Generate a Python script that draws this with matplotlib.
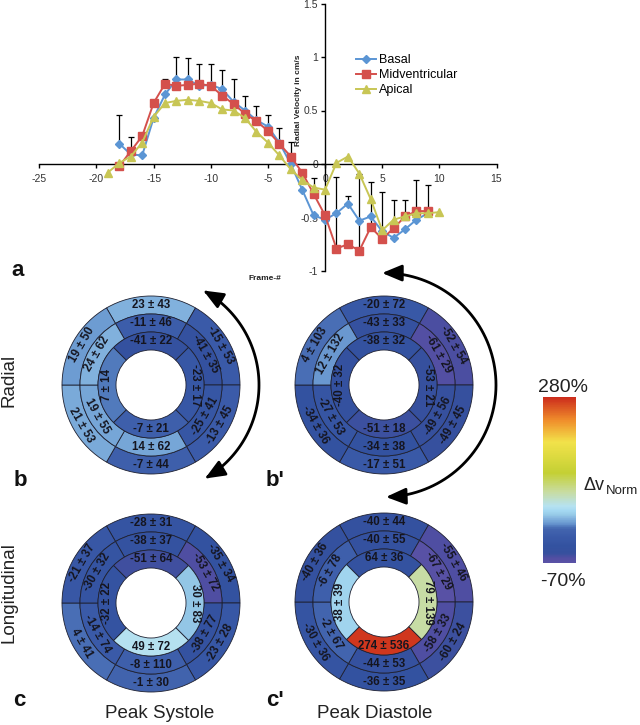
import numpy as np
import matplotlib
matplotlib.use('Agg')
import matplotlib.pyplot as plt
from matplotlib.patches import Wedge, FancyArrowPatch
from matplotlib.path import Path
from matplotlib.colors import LinearSegmentedColormap, Normalize
import matplotlib.colorbar as mcolorbar

plt.rcParams['font.family'] = ['Liberation Sans', 'DejaVu Sans']

# ---------------- line chart data ----------------
frames_basal = list(range(-18, 10))
basal = [0.19, 0.09, 0.08, 0.43, 0.65, 0.79, 0.79, 0.73, 0.74, 0.70, 0.58, 0.50,
         0.41, 0.35, 0.20, 0.00, -0.24, -0.48, -0.52, -0.46, -0.37, -0.53, -0.49,
         -0.63, -0.69, -0.61, -0.52, -0.46]
frames_mid = list(range(-18, 10))
mid = [-0.02, 0.12, 0.26, 0.57, 0.75, 0.73, 0.74, 0.75, 0.73, 0.64, 0.56, 0.47,
       0.40, 0.31, 0.19, 0.07, -0.08, -0.28, -0.48, -0.79, -0.75, -0.81, -0.59,
       -0.70, -0.60, -0.49, -0.44, -0.44]
frames_apical = list(range(-19, 11))
apical = [-0.08, 0.01, 0.07, 0.20, 0.44, 0.57, 0.59, 0.60, 0.59, 0.57, 0.51, 0.50,
          0.43, 0.30, 0.20, 0.08, -0.05, -0.15, -0.22, -0.24, 0.01, 0.07, -0.09,
          -0.33, -0.62, -0.52, -0.49, -0.46, -0.46, -0.45]

# upper error-bar caps
err_frames_mid = [-17, -14, -13, -12, -11, -10, -9, -8, -7, -6, -5, -4, -3,
                  -1, 1, 3, 4, 5, 6, 7, 8, 9]
err_caps_mid = [0.25, 0.79, 1.00, 0.99, 0.93, 0.93, 0.88, 0.79, 0.64, 0.54, 0.46,
                0.34, 0.21, -0.13, -0.12, -0.09, -0.17, -0.26, -0.34, -0.34,
                -0.15, -0.20]
err_frames_basal = [-18, 2]
err_caps_basal = [0.46, -0.30]

x_ticks = [-25, -20, -15, -10, -5, 0, 5, 10, 15]
y_ticks = [-1, -0.5, 0, 0.5, 1, 1.5]
y_ticklabels = ['-1', '-0.5', '0', '0.5', '1', '1.5']

# ---------------- bullseye data ----------------
# order outer/middle: top, upper-right, lower-right, bottom, lower-left, upper-left
# order inner: top, right, bottom, left
b_outer_mean = [23, -15, -13, -7, 21, 19]
b_outer_sd = [43, 53, 45, 44, 53, 50]
b_outer_shade = [23, -15, -13, -7, 21, 15]
b_mid_mean = [-11, -41, -25, 14, 19, 24]
b_mid_sd = [46, 35, 41, 62, 55, 62]
b_mid_shade = [-11, -41, -25, 20, 20, 24]
b_in_mean = [-41, -23, -7, 7]
b_in_sd = [22, 17, 21, 14]
b_in_shade = [-41, -23, -7, 7]

bp_outer_mean = [-20, -52, -49, -17, -34, 4]
bp_outer_sd = [72, 54, 45, 51, 36, 103]
bp_outer_shade = [-20, -57, -49, -17, -34, 4]
bp_mid_mean = [-43, -61, -49, -34, -27, 12]
bp_mid_sd = [33, 29, 56, 38, 53, 132]
bp_mid_shade = [-43, -61, -49, -34, -27, 14]
bp_in_mean = [-38, -53, -51, -40]
bp_in_sd = [32, 21, 18, 32]
bp_in_shade = [-38, -48, -51, -40]

c_outer_mean = [-28, -35, -23, -1, 4, -21]
c_outer_sd = [31, 34, 28, 30, 41, 37]
c_outer_shade = [-28, -35, -23, -1, 4, -21]
c_mid_mean = [-38, -53, -38, -8, -14, -30]
c_mid_sd = [37, 72, 77, 110, 74, 32]
c_mid_shade = [-38, -58, -38, -8, -14, -30]
c_in_mean = [-51, 30, 49, -32]
c_in_sd = [64, 83, 72, 22]
c_in_shade = [-53, 30, 49, -32]

cp_outer_mean = [-40, -55, -60, -36, -30, -40]
cp_outer_sd = [44, 46, 24, 35, 36, 36]
cp_outer_shade = [-40, -58, -52, -36, -30, -40]
cp_mid_mean = [-40, -67, -58, -44, -2, -6]
cp_mid_sd = [55, 29, 33, 53, 67, 78]
cp_mid_shade = [-40, -67, -58, -44, 0, -8]
cp_in_mean = [64, 79, 274, 38]
cp_in_sd = [36, 139, 536, 39]
cp_in_shade = [-38, 79, 274, 38]

cbar_min, cbar_max = -70, 280

# ---------------- colour map ----------------
stops = [(-70, '#5a52a6'), (-60, '#524ea2'), (-50, '#36509e'), (-35, '#3352a0'),
         (-15, '#3a5aa8'), (0, '#4264ae'), (5, '#4a70b6'), (12, '#6694ce'),
         (20, '#78a8d8'), (25, '#86b6e0'), (32, '#98cce8'), (40, '#a4d8f2'),
         (50, '#b6e2f0'), (80, '#c8dca0'), (120, '#c4d034'), (185, '#f2e24a'),
         (230, '#f0902c'), (280, '#cc2c1c')]
cmap = LinearSegmentedColormap.from_list(
    'dv', [((v - cbar_min) / (cbar_max - cbar_min), c) for v, c in stops])
norm = Normalize(cbar_min, cbar_max)

W, H = 640, 725
fig = plt.figure(figsize=(W / 100, H / 100), dpi=100)

# ---------------- line chart ----------------
ax = fig.add_axes([39.3 / W, 1 - 271 / H, 457.2 / W, 267.5 / H])
ax.set_facecolor('none')
BLUE, RED, YEL = '#5b95d4', '#d4504c', '#c8c655'
ax.plot(frames_basal, basal, color=BLUE, marker='D', ms=4, lw=1.4, label='Basal', zorder=3)
ax.plot(frames_mid, mid, color=RED, marker='s', ms=5.5, lw=1.4, label='Midventricular', zorder=3)
ax.plot(frames_apical, apical, color=YEL, marker='^', ms=5.5, lw=1.4, label='Apical', zorder=3)


def up_errors(frames, series_frames, series, caps):
    vals = [series[series_frames.index(f)] for f in frames]
    up = [c - v for c, v in zip(caps, vals)]
    eb = ax.errorbar(frames, vals, yerr=[np.zeros(len(up)), up], fmt='none',
                     ecolor='black', elinewidth=0.9, capsize=2.5, capthick=0.9, zorder=2)
    eb[1][0].set_visible(False)


up_errors(err_frames_mid, frames_mid, mid, err_caps_mid)
up_errors(err_frames_basal, frames_basal, basal, err_caps_basal)

ax.set_xlim(-25, 15)
ax.set_ylim(-1, 1.5)
ax.spines['left'].set_position(('data', 0))
ax.spines['bottom'].set_position(('data', 0))
ax.spines['top'].set_visible(False)
ax.spines['right'].set_visible(False)
for s in ('left', 'bottom'):
    ax.spines[s].set_linewidth(1.0)
    ax.spines[s].set_color('black')
ax.set_xticks(x_ticks)
ax.set_xticklabels([str(t) for t in x_ticks])
ax.set_yticks(y_ticks)
ax.set_yticklabels(y_ticklabels)
ax.tick_params(axis='both', direction='out', length=3, width=1, pad=2,
               labelsize=7.5, labelcolor='#333333')
ax.tick_params(axis='x', pad=4)
leg = ax.legend(loc='upper left', bbox_to_anchor=(356 / W, 1 - 54 / H),
                bbox_transform=fig.transFigure, frameon=False, fontsize=9,
                handlelength=1.6, handletextpad=0.2, labelspacing=0.25,
                borderpad=0, borderaxespad=0)
fig.text(298 / W, 1 - 100 / H, 'Radial Velocity in cm/s', rotation=90, ha='center',
         va='center', fontsize=6, fontweight='bold', color='#222222')
fig.text(265 / W, 1 - 278 / H, 'Frame-#', ha='center', va='center', fontsize=6,
         fontweight='bold', color='#222222')

# ---------------- overlay for bullseyes ----------------
ov = fig.add_axes([0, 0, 1, 1])
ov.set_xlim(0, W)
ov.set_ylim(0, H)
ov.axis('off')
ov.patch.set_visible(False)

EDGE = '#1e2030'
TXT = '#15151f'
R_HOLE, R1, R2, R3 = 35, 53, 71, 89
ring6 = [90, 30, -30, -90, -150, 150]
ring4 = [90, 0, -90, 180]


def label_rot(theta):
    t = theta % 360
    return t - 90 if t <= 180 else t - 270


def draw_bullseye(cx, cy_img, outer, middle, inner):
    cy = H - cy_img
    rings = [(R2, R3, ring6, 30, outer), (R1, R2, ring6, 30, middle),
             (R_HOLE, R1, ring4, 45, inner)]
    for r_in, r_out, centers, half, (means, sds, shades) in rings:
        for th, m, s, sh in zip(centers, means, sds, shades):
            ov.add_patch(Wedge((cx, cy), r_out, th - half, th + half,
                               width=r_out - r_in, facecolor=cmap(norm(sh)),
                               edgecolor=EDGE, lw=0.6))
            rm = (r_in + r_out) / 2
            tx = cx + rm * np.cos(np.radians(th))
            ty = cy + rm * np.sin(np.radians(th))
            ov.text(tx, ty, f'{m} \u00b1 {s}', rotation=label_rot(th),
                    rotation_mode='anchor', ha='center', va='center',
                    fontsize=8.3, fontweight='bold', color=TXT)


draw_bullseye(151, 385, (b_outer_mean, b_outer_sd, b_outer_shade),
              (b_mid_mean, b_mid_sd, b_mid_shade), (b_in_mean, b_in_sd, b_in_shade))
draw_bullseye(384, 385, (bp_outer_mean, bp_outer_sd, bp_outer_shade),
              (bp_mid_mean, bp_mid_sd, bp_mid_shade), (bp_in_mean, bp_in_sd, bp_in_shade))
draw_bullseye(151, 603, (c_outer_mean, c_outer_sd, c_outer_shade),
              (c_mid_mean, c_mid_sd, c_mid_shade), (c_in_mean, c_in_sd, c_in_shade))
draw_bullseye(384, 602, (cp_outer_mean, cp_outer_sd, cp_outer_shade),
              (cp_mid_mean, cp_mid_sd, cp_mid_shade), (cp_in_mean, cp_in_sd, cp_in_shade))


def arc_arrow(cx, cy_img, r, a1, a2):
    t = np.radians(np.linspace(a1, a2, 80))
    verts = np.column_stack([cx + r * np.cos(t), (H - cy_img) + r * np.sin(t)])
    ov.add_patch(FancyArrowPatch(path=Path(verts),
                                 arrowstyle='<|-|>,head_length=12,head_width=5',
                                 color='black', lw=2.0, mutation_scale=1))


arc_arrow(151, 385, 108, 61, -60)
arc_arrow(384, 385, 112, 91, -89)

# panel letters and labels
for txt, x, y in [('a', 18, 270), ('b', 20, 480), ("b'", 275, 480),
                  ('c', 19, 700), ("c'", 275, 700)]:
    ov.text(x, H - y, txt, ha='center', va='center', fontsize=16, fontweight='bold',
            color='#111111')
ov.text(9, H - 380, 'Radial', rotation=90, ha='center', va='center', fontsize=13.5,
        color='#222222')
ov.text(9, H - 593, 'Longitudinal', rotation=90, ha='center', va='center',
        fontsize=13.5, color='#222222')
ov.text(160, H - 713, 'Peak Systole', ha='center', va='center', fontsize=13.5,
        color='#222222')
ov.text(375, H - 714, 'Peak Diastole', ha='center', va='center', fontsize=13.5,
        color='#222222')

# ---------------- colour bar ----------------
cax = fig.add_axes([543 / W, 1 - 563 / H, 33 / W, 166 / H])
cb = mcolorbar.ColorbarBase(cax, cmap=cmap, norm=norm, orientation='vertical')
cb.outline.set_visible(False)
cb.set_ticks([])
ov.text(563, H - 387, f'{cbar_max}%', ha='center', va='center', fontsize=14,
        color='#222222')
ov.text(563, H - 582, f'{cbar_min}%', ha='center', va='center', fontsize=14,
        color='#222222')
ov.text(584, H - 485, '\u0394v', ha='left', va='center', fontsize=13, color='#222222')
ov.text(606, H - 491, 'Norm', ha='left', va='center', fontsize=9.5, color='#222222')

fig.savefig('out.png', dpi=100)
